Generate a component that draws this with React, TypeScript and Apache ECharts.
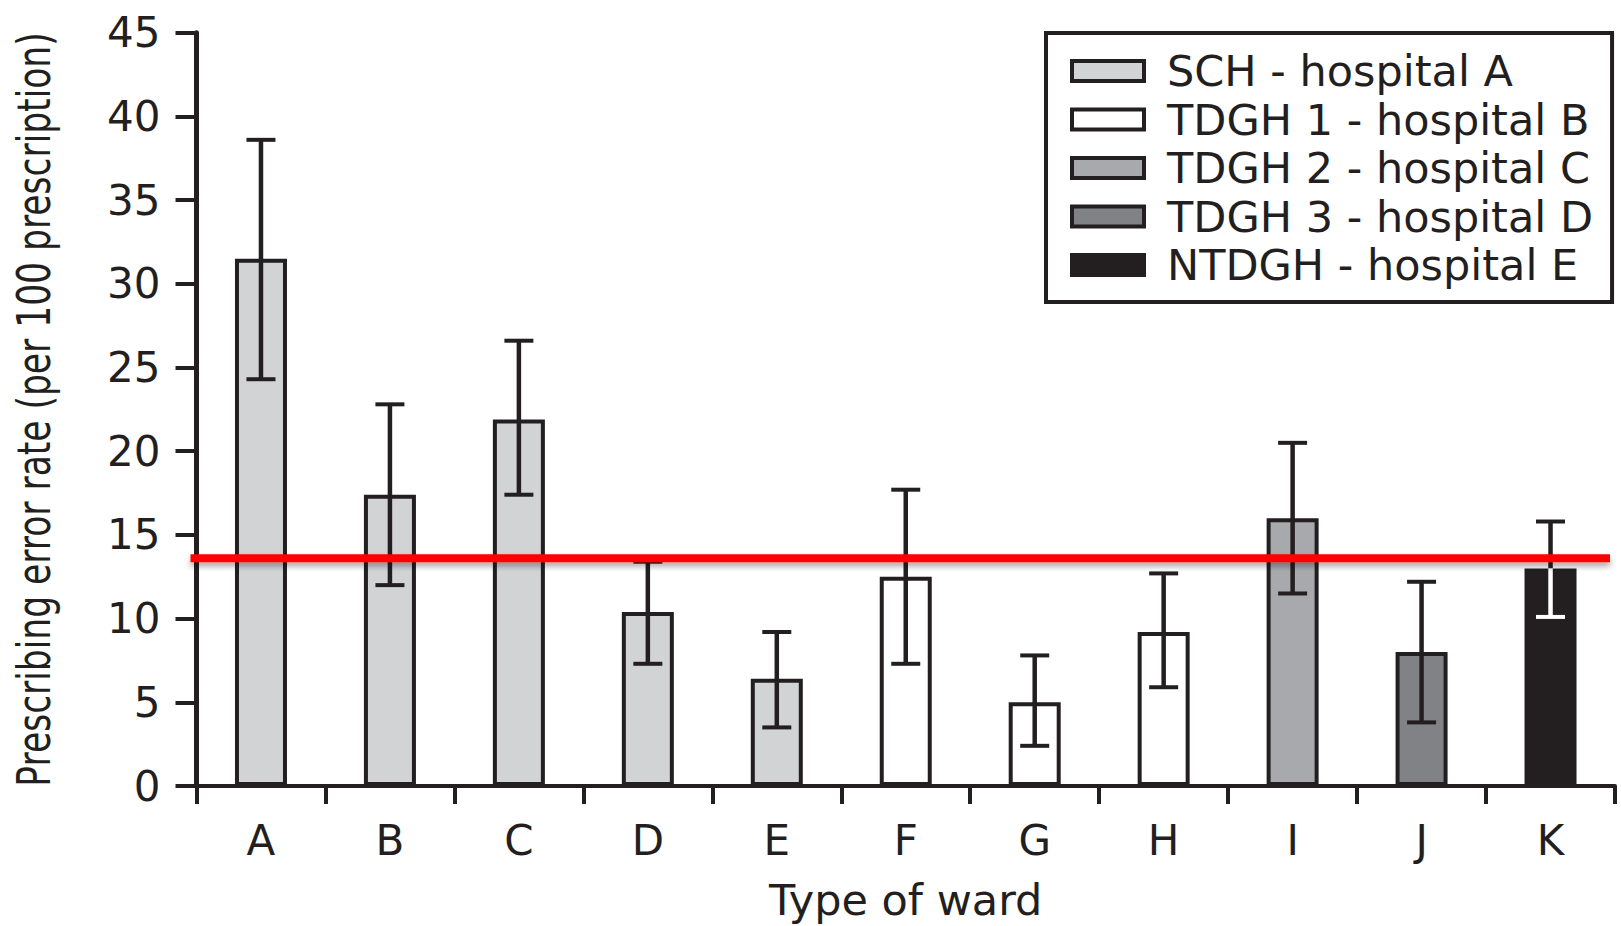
import React, { useEffect, useRef } from "react";
import * as echarts from "echarts";

const categories = ["A", "B", "C", "D", "E", "F", "G", "H", "I", "J", "K"];
const hospitals = [
  "SCH - hospital A",
  "TDGH 1 - hospital B",
  "TDGH 2 - hospital C",
  "TDGH 3 - hospital D",
  "NTDGH - hospital E",
];
const hospitalOfWard = [0, 0, 0, 0, 0, 1, 1, 1, 2, 3, 4];
const errorRates = [31.5, 17.4, 21.9, 10.4, 6.4, 12.5, 5.0, 9.2, 16.0, 8.0, 13.0];
const errorLow = [24.3, 12.0, 17.4, 7.3, 3.5, 7.3, 2.4, 5.9, 11.5, 3.8, 10.1];
const errorHigh = [38.6, 22.8, 26.6, 13.4, 9.2, 17.7, 7.8, 12.7, 20.5, 12.2, 15.8];
const referenceRate = 13.6;
const hospitalColors = ["#d1d3d4", "#ffffff", "#a7a9ac", "#808285", "#231f20"];
const yTitle = "Prescribing error rate (per 100 prescription)";
const xTitle = "Type of ward";

const INK = "#231f20";
const FONT = "DejaVu Sans";

export default function App() {
  const ref = useRef<HTMLDivElement>(null);
  useEffect(() => {
    if (!ref.current) return;
    const chart = echarts.init(ref.current, null, { renderer: "svg" });

    const barSeries = hospitals.map((name, h) => ({
      name,
      type: "bar",
      barWidth: 52,
      barGap: "-100%",
      z: 2,
      silent: true,
      data: categories.map((_, i) => (hospitalOfWard[i] === h ? errorRates[i] : "-")),
      itemStyle: {
        color: hospitalColors[h],
        borderColor: INK,
        borderWidth: 4,
      },
    }));

    const errData = categories.map((_, i) => [
      i,
      errorLow[i],
      errorHigh[i],
      errorRates[i],
      hospitalOfWard[i] === 4 ? 1 : 0,
    ]);

    const option: any = {
      animation: false,
      textStyle: { fontFamily: FONT, color: INK },
      grid: { left: 196.5, right: 6, top: 32.7, bottom: 136, containLabel: false },
      legend: {
        orient: "vertical",
        left: 1046,
        top: 33,
        data: hospitals,
        selectedMode: false,
        icon: "rect",
        itemWidth: 72,
        itemHeight: 20,
        itemGap: 4.5,
        padding: [16, 19, 15, 24],
        borderColor: INK,
        borderWidth: 4,
        borderRadius: 0,
        itemStyle: { borderColor: INK, borderWidth: 4 },
        textStyle: {
          fontFamily: FONT,
          fontSize: 43,
          lineHeight: 44,
          color: INK,
          padding: [0, 0, 0, 18],
        },
      },
      xAxis: {
        type: "category",
        data: categories,
        axisLine: { lineStyle: { color: INK, width: 4 } },
        axisTick: { show: true, length: 18, lineStyle: { color: INK, width: 4 } },
        axisLabel: { margin: 33, fontSize: 42, lineHeight: 42, fontFamily: FONT, color: INK },
        name: xTitle,
        nameLocation: "middle",
        nameGap: 92,
        nameTextStyle: { fontSize: 43, lineHeight: 43, fontFamily: FONT, color: INK },
      },
      yAxis: {
        type: "value",
        min: 0,
        max: 45,
        interval: 5,
        axisLine: { show: true, lineStyle: { color: INK, width: 5 } },
        axisTick: { show: true, length: 21, lineStyle: { color: INK, width: 4 } },
        axisLabel: { margin: 36, fontSize: 42, fontFamily: FONT, color: INK },
        splitLine: { show: false },
      },
      graphic: [
        {
          type: "text",
          x: 34,
          y: 409.5,
          rotation: Math.PI / 2,
          scaleY: 1.35,
          silent: true,
          style: {
            text: yTitle,
            fontFamily: FONT,
            fontSize: 34.5,
            fill: INK,
            align: "center",
            verticalAlign: "middle",
          },
        },
      ],
      series: [
        ...barSeries,
        {
          type: "custom",
          name: "error",
          z: 4,
          silent: true,
          clip: false,
          encode: { x: 0, y: [1, 2] },
          data: errData,
          renderItem: (params: any, api: any) => {
            const i = api.value(0);
            const lo = api.coord([i, api.value(1)]);
            const hi = api.coord([i, api.value(2)]);
            const top = api.coord([i, api.value(3)]);
            const dark = api.value(4) === 1;
            const x = hi[0];
            const hw = 14.5;
            const children: any[] = [];
            const seg = (x1: number, y1: number, x2: number, y2: number, color: string, w: number) => ({
              type: "line",
              shape: { x1, y1, x2, y2 },
              style: { stroke: color, lineWidth: w },
            });
            if (dark) {
              children.push(seg(x, hi[1], x, top[1], INK, 4.5));
              children.push(seg(x, top[1], x, lo[1], "#ffffff", 4.5));
              children.push(seg(x - hw, hi[1], x + hw, hi[1], INK, 4));
              children.push(seg(x - hw, lo[1], x + hw, lo[1], "#ffffff", 4));
            } else {
              children.push(seg(x, hi[1], x, lo[1], INK, 4.5));
              children.push(seg(x - hw, hi[1], x + hw, hi[1], INK, 4));
              children.push(seg(x - hw, lo[1], x + hw, lo[1], INK, 4));
            }
            return { type: "group", children };
          },
        },
        {
          type: "custom",
          name: "reference",
          z: 6,
          silent: true,
          clip: false,
          encode: { x: 0, y: 1 },
          data: [[0, referenceRate]],
          renderItem: (params: any, api: any) => {
            const p = api.coord([0, api.value(1)]);
            const cs = params.coordSys;
            const h = 8;
            return {
              type: "rect",
              shape: { x: cs.x - 6, y: p[1] - h / 2, width: cs.width + 1, height: h },
              style: {
                fill: "#ff0000",
                shadowColor: "rgba(0,0,0,0.35)",
                shadowBlur: 6,
                shadowOffsetY: 4,
              },
            };
          },
        },
      ],
    };

    chart.setOption(option);
    return () => chart.dispose();
  }, []);

  return (
    <div
      ref={ref}
      style={{ position: "absolute", left: 0, top: 0, width: 1621, height: 926, background: "#ffffff" }}
    />
  );
}
